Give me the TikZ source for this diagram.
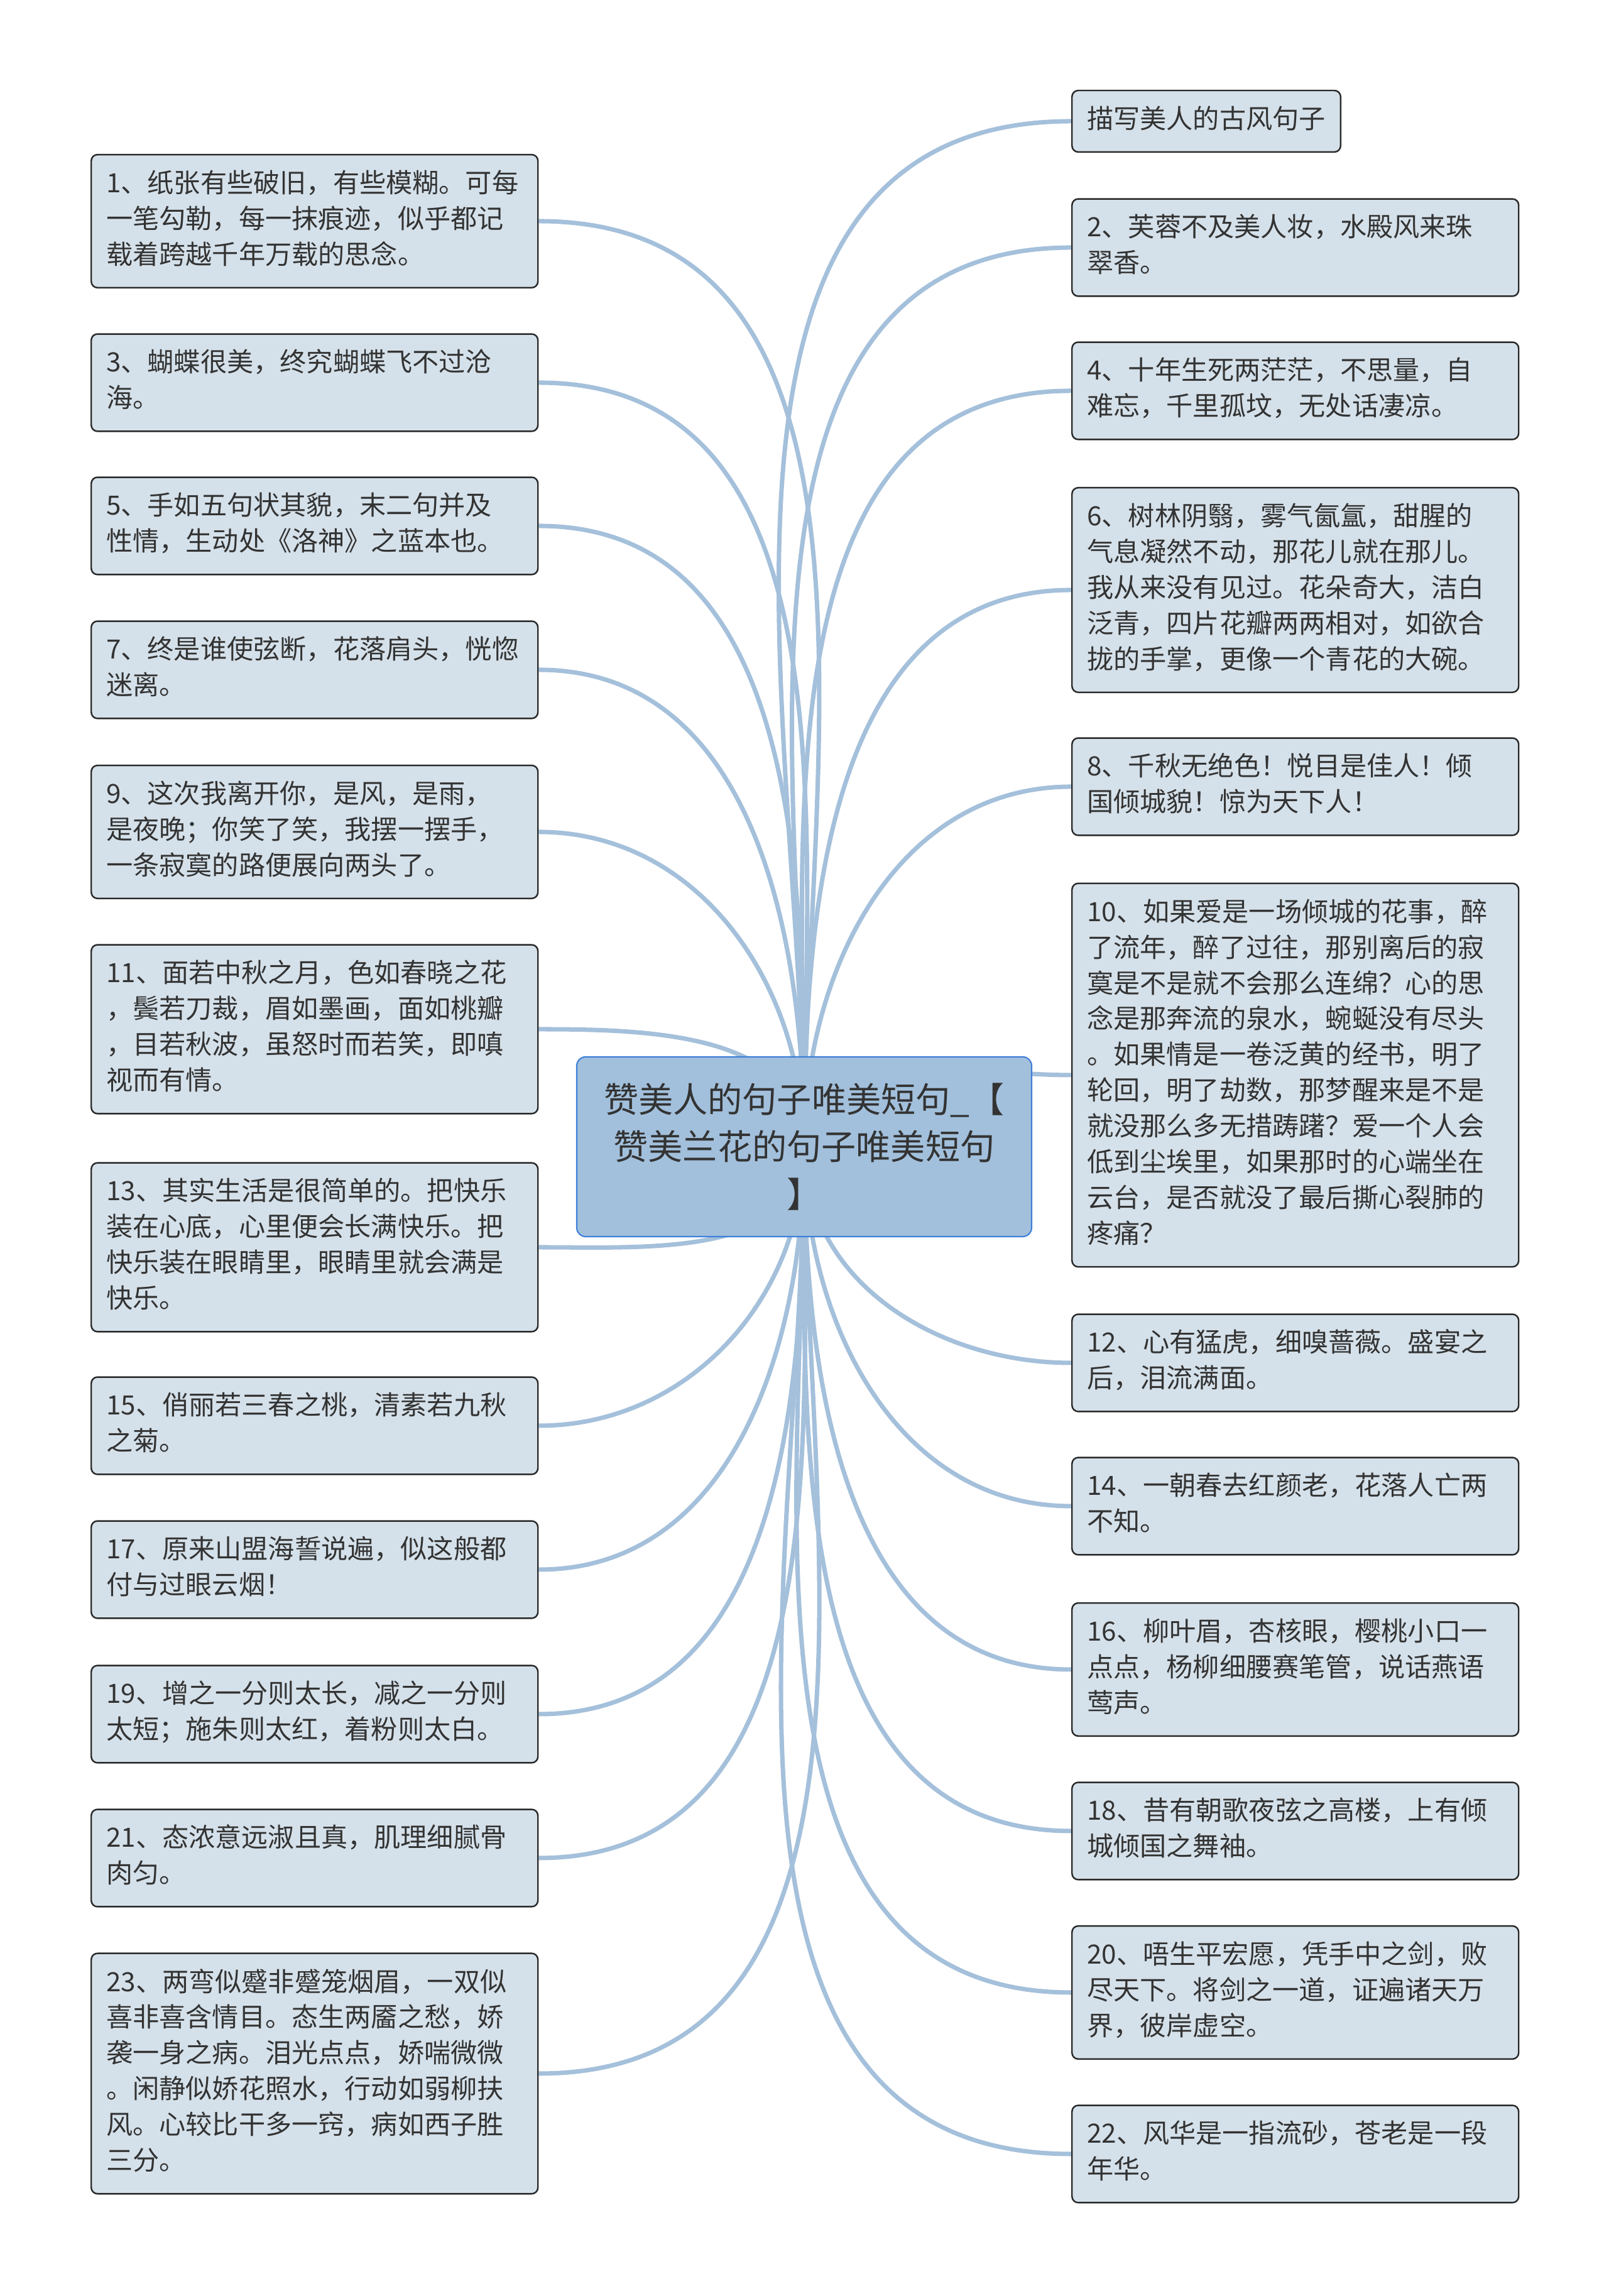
\documentclass[tikz,border=0pt]{standalone}
\usepackage{fontspec}
\setmainfont{Noto Sans CJK SC}
\usepackage{xcolor}
\usepackage{tikz}
\definecolor{STRoot}{HTML}{A2C0DC}
\definecolor{STRootLine}{HTML}{3F7FD8}
\definecolor{STLeaf}{HTML}{D5E1EA}
\definecolor{STLeafLine}{HTML}{2A2A2A}
\definecolor{STLink}{HTML}{A4C0DB}
\definecolor{STText}{HTML}{333333}
\pgfdeclarelayer{background}
\pgfsetlayers{background,main}
\tikzset{
  box/.style={draw=STLeafLine,line width=0.7pt,fill=STLeaf,rounded corners=0.1cm,
    anchor=west,align=left,inner xsep=0.24cm,inner ysep=0.205cm,text=STText,
    font=\fontsize{12pt}{16.2pt}\selectfont,
    execute at begin node=\strut,execute at end node=\strut},
  leaf/.style={box,text width=6.63cm},
  root/.style={draw=STRootLine,line width=0.6pt,fill=STRoot,rounded corners=0.14cm,
    minimum width=7.24cm,minimum height=2.86cm,align=center,text=STText,
    font=\fontsize{15.7pt}{21.6pt}\selectfont},
  link/.style={draw=STLink,line width=2pt}
}

\begin{document}
\begin{tikzpicture}[x=1cm,y=1cm]
\path[use as bounding box] (0,0) rectangle (25.60,36.54);
\node[root] (root) at (12.80,18.29) {赞美人的句子唯美短句\_【\\赞美兰花的句子唯美短句\\】};
% left column
\node[leaf] (q1) at (1.44,33.02) {1、纸张有些破旧，有些模糊。可每\\一笔勾勒，每一抹痕迹，似乎都记\\载着跨越千年万载的思念。};
\node[leaf] (q3) at (1.44,30.45) {3、蝴蝶很美，终究蝴蝶飞不过沧\\海。};
\node[leaf] (q5) at (1.44,28.17) {5、手如五句状其貌，末二句并及\\性情，生动处《洛神》之蓝本也。};
\node[leaf] (q7) at (1.44,25.88) {7、终是谁使弦断，花落肩头，恍惚\\迷离。};
\node[leaf] (q9) at (1.44,23.30) {9、这次我离开你，是风，是雨，\\是夜晚；你笑了笑，我摆一摆手，\\一条寂寞的路便展向两头了。};
\node[leaf] (q11) at (1.44,20.16) {11、面若中秋之月，色如春晓之花\\，鬓若刀裁，眉如墨画，面如桃瓣\\，目若秋波，虽怒时而若笑，即嗔\\视而有情。};
\node[leaf] (q13) at (1.44,16.69) {13、其实生活是很简单的。把快乐\\装在心底，心里便会长满快乐。把\\快乐装在眼睛里，眼睛里就会满是\\快乐。};
\node[leaf] (q15) at (1.44,13.85) {15、俏丽若三春之桃，清素若九秋\\之菊。};
\node[leaf] (q17) at (1.44,11.56) {17、原来山盟海誓说遍，似这般都\\付与过眼云烟！};
\node[leaf] (q19) at (1.44,9.26) {19、增之一分则太长，减之一分则\\太短；施朱则太红，着粉则太白。};
\node[leaf] (q21) at (1.44,6.97) {21、态浓意远淑且真，肌理细腻骨\\肉匀。};
\node[leaf] (q23) at (1.44,3.54) {23、两弯似蹙非蹙笼烟眉，一双似\\喜非喜含情目。态生两靥之愁，娇\\袭一身之病。泪光点点，娇喘微微\\。闲静似娇花照水，行动如弱柳扶\\风。心较比干多一窍，病如西子胜\\三分。};
% right column
\node[box] (qtitle) at (17.05,34.61) {描写美人的古风句子};
\node[leaf] (q2) at (17.05,32.60) {2、芙蓉不及美人妆，水殿风来珠\\翠香。};
\node[leaf] (q4) at (17.05,30.32) {4、十年生死两茫茫，不思量，自\\难忘，千里孤坟，无处话凄凉。};
\node[leaf] (q6) at (17.05,27.15) {6、树林阴翳，雾气氤氲，甜腥的\\气息凝然不动，那花儿就在那儿。\\我从来没有见过。花朵奇大，洁白\\泛青，四片花瓣两两相对，如欲合\\拢的手掌，更像一个青花的大碗。};
\node[leaf] (q8) at (17.05,24.02) {8、千秋无绝色！悦目是佳人！倾\\国倾城貌！惊为天下人！};
\node[leaf] (q10) at (17.05,19.43) {10、如果爱是一场倾城的花事，醉\\了流年，醉了过往，那别离后的寂\\寞是不是就不会那么连绵？心的思\\念是那奔流的泉水，蜿蜒没有尽头\\。如果情是一卷泛黄的经书，明了\\轮回，明了劫数，那梦醒来是不是\\就没那么多无措踌躇？爱一个人会\\低到尘埃里，如果那时的心端坐在\\云台，是否就没了最后撕心裂肺的\\疼痛？};
\node[leaf] (q12) at (17.05,14.85) {12、心有猛虎，细嗅蔷薇。盛宴之\\后，泪流满面。};
\node[leaf] (q14) at (17.05,12.57) {14、一朝春去红颜老，花落人亡两\\不知。};
\node[leaf] (q16) at (17.05,9.97) {16、柳叶眉，杏核眼，樱桃小口一\\点点，杨柳细腰赛笔管，说话燕语\\莺声。};
\node[leaf] (q18) at (17.05,7.40) {18、昔有朝歌夜弦之高楼，上有倾\\城倾国之舞袖。};
\node[leaf] (q20) at (17.05,4.83) {20、唔生平宏愿，凭手中之剑，败\\尽天下。将剑之一道，证遍诸天万\\界，彼岸虚空。};
\node[leaf] (q22) at (17.05,2.26) {22、风华是一指流砂，苍老是一段\\年华。};
% links behind the nodes
\begin{pgfonlayer}{background}
\draw[link] (root.center) to[out=90,in=0] (q1.east);
\draw[link] (root.center) to[out=90,in=0] (q3.east);
\draw[link] (root.center) to[out=90,in=0] (q5.east);
\draw[link] (root.center) to[out=90,in=0] (q7.east);
\draw[link] (root.center) to[out=90,in=0] (q9.east);
\draw[link] (root.center) to[out=90,in=0] (q11.east);
\draw[link] (root.center) to[out=-90,in=0] (q13.east);
\draw[link] (root.center) to[out=-90,in=0] (q15.east);
\draw[link] (root.center) to[out=-90,in=0] (q17.east);
\draw[link] (root.center) to[out=-90,in=0] (q19.east);
\draw[link] (root.center) to[out=-90,in=0] (q21.east);
\draw[link] (root.center) to[out=-90,in=0] (q23.east);
\draw[link] (root.center) to[out=90,in=180] (qtitle.west);
\draw[link] (root.center) to[out=90,in=180] (q2.west);
\draw[link] (root.center) to[out=90,in=180] (q4.west);
\draw[link] (root.center) to[out=90,in=180] (q6.west);
\draw[link] (root.center) to[out=90,in=180] (q8.west);
\draw[link] (root.center) to[out=90,in=180] (q10.west);
\draw[link] (root.center) to[out=-90,in=180] (q12.west);
\draw[link] (root.center) to[out=-90,in=180] (q14.west);
\draw[link] (root.center) to[out=-90,in=180] (q16.west);
\draw[link] (root.center) to[out=-90,in=180] (q18.west);
\draw[link] (root.center) to[out=-90,in=180] (q20.west);
\draw[link] (root.center) to[out=-90,in=180] (q22.west);
\end{pgfonlayer}
\end{tikzpicture}
\end{document}
